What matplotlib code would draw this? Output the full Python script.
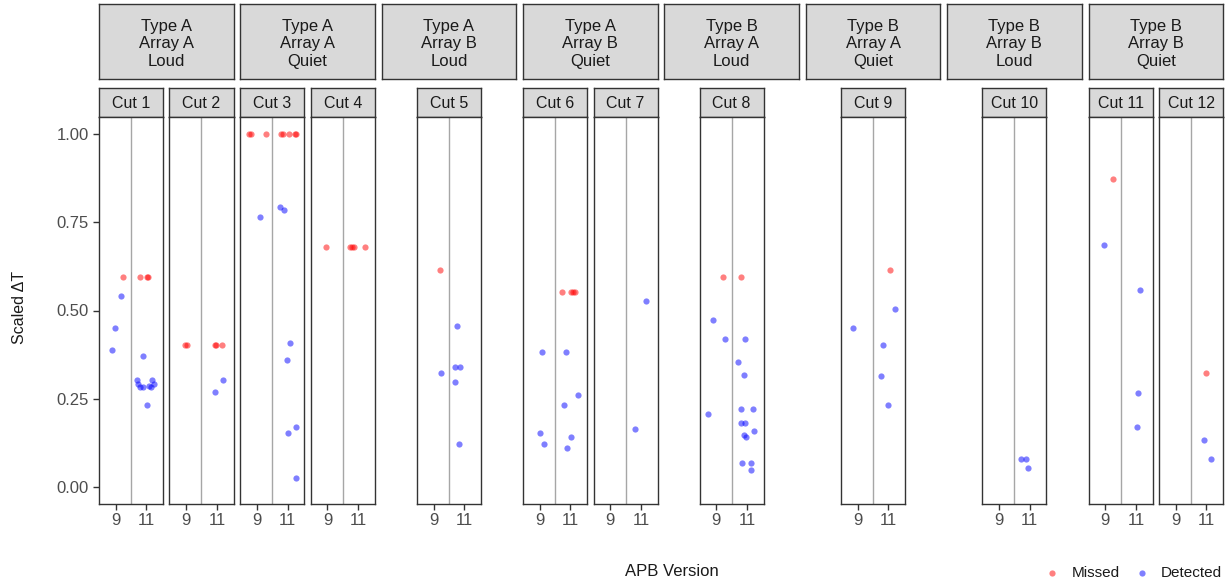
import matplotlib
matplotlib.use("Agg")
import matplotlib.pyplot as plt

plt.rcParams['font.family'] = ['Liberation Sans', 'DejaVu Sans']

# ---------------- data ----------------
group_labels = ["Type A\nArray A\nLoud", "Type A\nArray A\nQuiet",
                "Type A\nArray B\nLoud", "Type A\nArray B\nQuiet",
                "Type B\nArray A\nLoud", "Type B\nArray A\nQuiet",
                "Type B\nArray B\nLoud", "Type B\nArray B\nQuiet"]
group_cuts = [[1, 2], [3, 4], [5], [6, 7], [8], [9], [10], [11, 12]]
version_ticks = [9, 11]
y_ticks = [0.00, 0.25, 0.50, 0.75, 1.00]
y_tick_labels = ["0.00", "0.25", "0.50", "0.75", "1.00"]

# Missed points (cut, jittered version position, scaled dT)
missed_cut = [1, 1, 1, 1,
              2, 2, 2, 2, 2,
              3, 3, 3, 3, 3, 3, 3, 3,
              4, 4, 4, 4, 4,
              5,
              6, 6, 6, 6,
              8, 8,
              9,
              11,
              12]
missed_x = [9.46, 10.57, 11.05, 11.12,
            8.95, 9.05, 10.88, 10.95, 11.35,
            8.48, 8.59, 9.59, 10.59, 10.70, 11.09, 11.46, 11.54,
            8.92, 10.49, 10.60, 10.75, 11.47,
            9.42,
            10.45, 11.05, 11.18, 11.29,
            9.42, 10.58,
            11.13,
            9.52,
            10.98]
missed_y = [0.595, 0.595, 0.595, 0.595,
            0.403, 0.403, 0.403, 0.403, 0.403,
            1.0, 1.0, 1.0, 1.0, 1.0, 1.0, 1.0, 1.0,
            0.680, 0.680, 0.680, 0.680, 0.680,
            0.616,
            0.553, 0.553, 0.553, 0.553,
            0.595, 0.595,
            0.616,
            0.872,
            0.324]

# Detected points
detected_cut = [1] * 13 + [2] * 2 + [3] * 8 + [5] * 6 + [6] * 8 + [7] * 2 + \
               [8] * 16 + [9] * 5 + [10] * 3 + [11] * 4 + [12] * 2
detected_x = [9.35, 8.93, 8.76, 10.76, 10.39, 10.48, 10.57, 10.76, 11.35, 11.50, 11.15, 11.30, 11.02,
              11.37, 10.85,
              9.17, 10.48, 10.74, 11.13, 10.98, 11.54, 11.00, 11.52,
              10.53, 9.47, 10.40, 10.71, 10.40, 10.68,
              9.16, 10.68, 11.51, 10.55, 8.99, 9.29, 11.01, 10.79,
              11.33, 10.63,
              8.79, 9.55, 10.88, 10.40, 10.77, 8.45, 10.60, 11.40, 10.62, 10.86, 11.42, 10.77, 10.92,
              10.64, 11.23, 11.25,
              11.43, 8.72, 10.63, 10.52, 10.98,
              10.42, 10.75, 10.90,
              8.93, 11.24, 11.11, 11.07,
              10.87, 11.28]
detected_y = [0.542, 0.451, 0.387, 0.371, 0.302, 0.291, 0.282, 0.282, 0.302, 0.291, 0.287, 0.282, 0.233,
              0.302, 0.270,
              0.766, 0.793, 0.786, 0.408, 0.360, 0.168, 0.153, 0.026,
              0.457, 0.322, 0.340, 0.340, 0.296, 0.121,
              0.381, 0.381, 0.259, 0.233, 0.152, 0.121, 0.142, 0.111,
              0.526, 0.164,
              0.473, 0.419, 0.419, 0.355, 0.318, 0.206, 0.221, 0.221, 0.180, 0.180, 0.158, 0.148, 0.142,
              0.068, 0.068, 0.046,
              0.505, 0.451, 0.403, 0.313, 0.233,
              0.079, 0.079, 0.052,
              0.686, 0.558, 0.265, 0.168,
              0.132, 0.079]

# ---------------- layout ----------------
W, H = 1226, 585
fig = plt.figure(figsize=(W / 100, H / 100), dpi=100)


def fx(px):
    return px / W


def fy(py):
    return 1 - py / H


def add_box(x0, x1, y0, y1):
    return fig.add_axes([fx(x0), fy(y1), fx(x1) - fx(x0), fy(y0) - fy(y1)])


RED = "#FF0000"
BLUE = "#0000FF"
EDGE = "#333333"
STRIP = "#D9D9D9"
TXT = "#1A1A1A"
TICK_TXT = "#4D4D4D"

left0, right_end = 99.0, 1223.0
pw, pg = 64.0, 6.5
gw = 2 * pw + pg
gg = (right_end - left0 - 8 * gw) / 7
hdr_top, hdr_bot = 4.0, 79.0
cut_top, cut_bot = 88.3, 116.7
pan_top, pan_bot = 116.7, 504.3

first = True
for gi, (glabel, cuts) in enumerate(zip(group_labels, group_cuts)):
    gx0 = left0 + gi * (gw + gg)
    # group header
    hax = add_box(gx0, gx0 + gw, hdr_top, hdr_bot)
    hax.set_facecolor(STRIP)
    hax.set_xticks([]); hax.set_yticks([])
    for s in hax.spines.values():
        s.set_color(EDGE); s.set_linewidth(1.0)
    hax.text(0.5, 0.47, glabel, ha="center", va="center", fontsize=12,
             color=TXT, linespacing=1.2, transform=hax.transAxes)

    if len(cuts) == 2:
        xs = [gx0, gx0 + pw + pg]
    else:
        xs = [gx0 + (gw - pw) / 2]
    for cut, px0 in zip(cuts, xs):
        # cut strip
        sax = add_box(px0, px0 + pw, cut_top, cut_bot)
        sax.set_facecolor(STRIP)
        sax.set_xticks([]); sax.set_yticks([])
        for s in sax.spines.values():
            s.set_color(EDGE); s.set_linewidth(1.0)
        sax.text(0.5, 0.48, f"Cut {cut}", ha="center", va="center",
                 fontsize=11.5, color=TXT, transform=sax.transAxes)
        # panel
        ax = add_box(px0, px0 + pw, pan_top, pan_bot)
        ax.set_xlim(7.92, 12.08)
        ax.set_ylim(-0.05, 1.05)
        ax.axvline(10, color="#A6A6A6", lw=1.0, zorder=1)
        mx = [x for c, x in zip(missed_cut, missed_x) if c == cut]
        my = [y for c, y in zip(missed_cut, missed_y) if c == cut]
        dx = [x for c, x in zip(detected_cut, detected_x) if c == cut]
        dy = [y for c, y in zip(detected_cut, detected_y) if c == cut]
        ax.scatter(mx, my, s=20, color=RED, alpha=0.5, linewidths=0, zorder=3)
        ax.scatter(dx, dy, s=20, color=BLUE, alpha=0.5, linewidths=0, zorder=3)
        for s in ax.spines.values():
            s.set_color(EDGE); s.set_linewidth(1.0)
        ax.set_xticks(version_ticks)
        ax.set_xticklabels([str(v) for v in version_ticks])
        ax.tick_params(axis="x", length=4, width=1.0, color=EDGE,
                       labelsize=12, labelcolor=TICK_TXT, pad=2)
        if first:
            ax.set_yticks(y_ticks)
            ax.set_yticklabels(y_tick_labels)
            ax.tick_params(axis="y", length=4, width=1.0, color=EDGE,
                           labelsize=12, labelcolor=TICK_TXT, pad=3.5)
            first = False
        else:
            ax.set_yticks([])

# axis titles and legend on an overlay
ov = fig.add_axes([0, 0, 1, 1], facecolor="none")
ov.set_xlim(0, W); ov.set_ylim(H, 0)
ov.axis("off")
ov.text(20, 307, "Scaled \u0394T", rotation=90, ha="center", va="center",
        fontsize=11.5, color=TXT)
ov.text(672, 572, "APB Version", ha="center", va="center", fontsize=12, color=TXT)
ov.scatter([1052], [573], s=20, color=RED, alpha=0.5, linewidths=0)
ov.text(1072, 573, "Missed", ha="left", va="center", fontsize=11, color=TXT)
ov.scatter([1142], [573], s=20, color=BLUE, alpha=0.5, linewidths=0)
ov.text(1161, 573, "Detected", ha="left", va="center", fontsize=11, color=TXT)

fig.savefig("out.png", dpi=100)
